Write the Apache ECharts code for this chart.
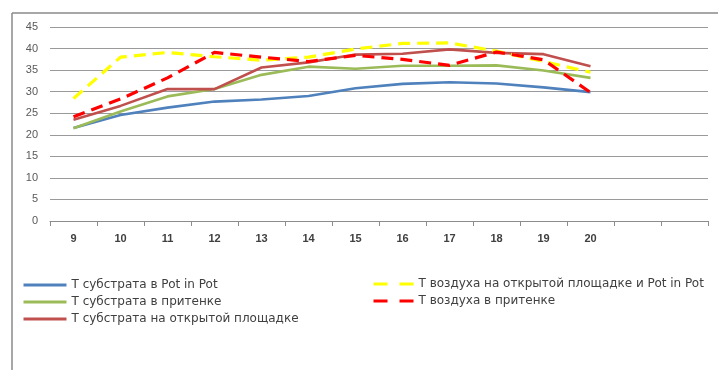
<!DOCTYPE html>
<html>
<head>
<meta charset="utf-8">
<script src="https://cdn.jsdelivr.net/npm/echarts@6/dist/echarts.min.js"></script>
<style>
  html, body { margin: 0; padding: 0; background: #fff; }
  #chart { width: 718px; height: 370px; }
</style>
</head>
<body>
<div id="chart"></div>
<script>
// Days of measurement (two trailing empty slots keep the right margin of the plot)
const categories = ['9', '10', '11', '12', '13', '14', '15', '16', '17', '18', '19', '20', '', ''];

const substratePotInPot = [21.6, 24.6, 26.3, 27.7, 28.2, 29.0, 30.8, 31.8, 32.2, 31.9, 31.0, 29.9];
const substrateShade    = [21.5, 25.4, 28.9, 30.6, 33.9, 35.8, 35.3, 36.0, 36.0, 36.1, 34.9, 33.2];
const substrateOpen     = [23.5, 26.7, 30.6, 30.6, 35.6, 36.8, 38.6, 38.8, 39.8, 39.0, 38.7, 35.9];
const airOpenPotInPot   = [28.4, 38.0, 39.1, 38.1, 37.3, 38.0, 39.9, 41.2, 41.3, 39.4, 37.0, 34.5];
const airShade          = [24.2, 28.3, 33.2, 39.1, 38.0, 37.0, 38.4, 37.5, 36.1, 39.2, 37.4, 29.8];

const names = [
  'Т субстрата в Pot in Pot',
  'Т субстрата в притенке',
  'Т субстрата на открытой площадке',
  'Т воздуха на открытой площадке и Pot in Pot',
  'Т воздуха в притенке'
];

const chart = echarts.init(document.getElementById('chart'));

function solid(name, data, color) {
  return {
    name, type: 'line', data, showSymbol: false, symbol: 'none',
    lineStyle: { color, width: 2.6 }, itemStyle: { color }
  };
}
function dashed(name, data, color) {
  return {
    name, type: 'line', data, showSymbol: false, symbol: 'none',
    lineStyle: { color, width: 3.2, type: [12, 7] }, itemStyle: { color }
  };
}

const legendText = { color: '#404040', fontSize: 12, fontFamily: 'DejaVu Sans, sans-serif' };

chart.setOption({
  animation: false,
  textStyle: { fontFamily: 'Liberation Sans, sans-serif' },
  grid: { left: 50, right: 10, top: 27, bottom: 149 },
  xAxis: {
    type: 'category',
    data: categories,
    boundaryGap: true,
    axisLine: { lineStyle: { color: '#8c8c8c', width: 1 } },
    axisTick: { show: true, length: 5, lineStyle: { color: '#8c8c8c' } },
    axisLabel: { color: '#404040', fontSize: 11, fontWeight: 'bold', margin: 12 }
  },
  yAxis: {
    type: 'value',
    min: 0, max: 45, interval: 5,
    axisLine: { show: false },
    axisTick: { show: false },
    axisLabel: { color: '#595959', fontSize: 11, margin: 12 },
    splitLine: { lineStyle: { color: '#9a9a9a', width: 1 } }
  },
  legend: [
    {
      data: names.slice(0, 3),
      orient: 'vertical', left: 22, top: 279, padding: 0,
      itemWidth: 43, itemHeight: 10, itemGap: 5,
      itemStyle: { opacity: 0 },
      lineStyle: { width: 3 },
      textStyle: legendText
    },
    {
      data: names.slice(3),
      orient: 'vertical', left: 372, top: 278, padding: 0,
      itemWidth: 40, itemHeight: 10, itemGap: 5,
      itemStyle: { opacity: 0 },
      lineStyle: { width: 3, type: [14, 12] },
      textStyle: legendText
    }
  ],
  graphic: [
    { type: 'line', shape: { x1: 12, y1: 13, x2: 718, y2: 13 }, style: { stroke: '#8a8a8a', lineWidth: 1.5 } },
    { type: 'line', shape: { x1: 12, y1: 13, x2: 12, y2: 370 }, style: { stroke: '#8a8a8a', lineWidth: 1.5 } }
  ],
  series: [
    solid(names[0], substratePotInPot, '#4F81BD'),
    solid(names[1], substrateShade, '#9BBB59'),
    solid(names[2], substrateOpen, '#C0504D'),
    dashed(names[3], airOpenPotInPot, '#FFFF00'),
    dashed(names[4], airShade, '#FF0000')
  ]
});
</script>
</body>
</html>
